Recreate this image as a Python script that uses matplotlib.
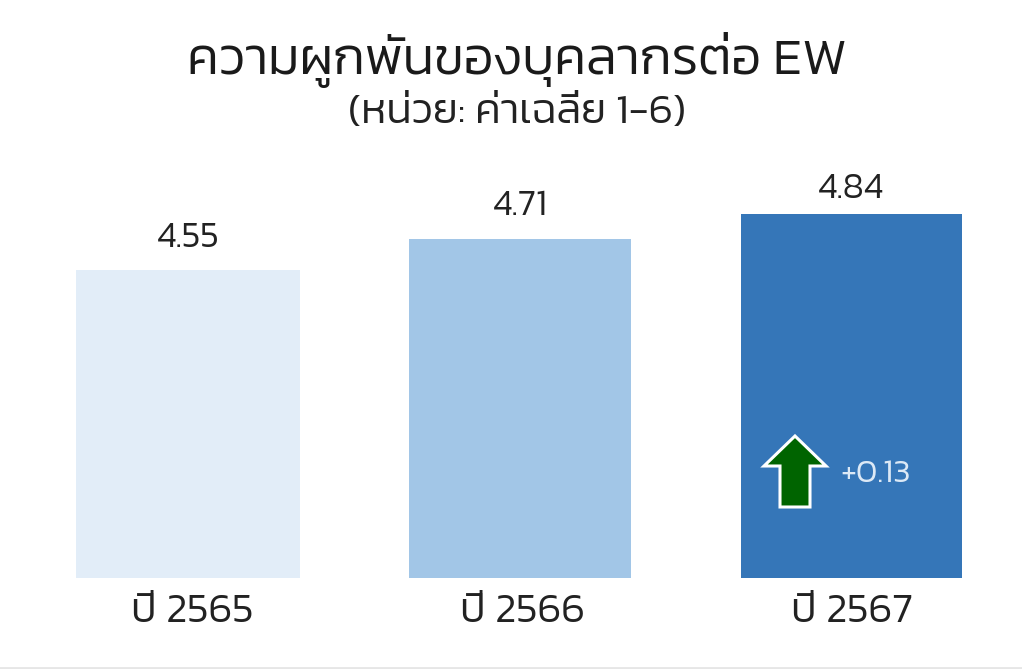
import matplotlib
matplotlib.use('Agg')
import matplotlib.pyplot as plt
from matplotlib.patches import FancyArrow
from matplotlib.lines import Line2D

years = ['ปี 2565', 'ปี 2566', 'ปี 2567']
values = [4.55, 4.71, 4.84]
colors = ['#e2edf8', '#a2c6e7', '#3576b8']
change_label = '+0.13'
title = 'ความผูกพันของบุคลากรต่อ EW'
subtitle = '(หน่วย: ค่าเฉลี่ย 1-6)'

plt.rcParams['font.family'] = ['Kanit', 'DejaVu Sans']
plt.rcParams['font.weight'] = 300

fig = plt.figure(figsize=(10.22, 6.69), dpi=100)
ax = fig.add_axes([0, 91 / 669, 1, 1 - 91 / 669])
ax.set_xlim(0, 1022)
ax.set_ylim(2.95, 2.95 + 578 / 192.5)
ax.axis('off')

# overlay in pixels for the title, labels and arrow
px = fig.add_axes([0, 0, 1, 1])
px.set_xlim(0, 1022)
px.set_ylim(669, 0)
px.axis('off')
px.patch.set_alpha(0)

centers = [188, 520, 851]
widths = [224, 222, 221]
ax.bar(centers, values, width=widths, color=colors)
for c, v, off in zip(centers, values, [32, 33, 25]):
    ax.annotate(f'{v:.2f}', (c, v), xytext=(0, off), textcoords='offset pixels',
                ha='center', va='center', fontsize=26, color='#222222')
for x, y in zip([192, 522, 852], years):
    px.text(x, 613, y, ha='center', va='center', fontsize=30, color='#222222')

px.text(517, 60, title, ha='center', va='center', fontsize=37.7, color='#1a1a1a')
px.text(517, 114, subtitle, ha='center', va='center', fontsize=30.4, color='#222222')

px.add_patch(FancyArrow(795, 507, 0, -71, width=30, head_width=62, head_length=30,
                        length_includes_head=True, facecolor='#006400',
                        edgecolor='white', linewidth=2.2))
px.text(876, 474, change_label, ha='center', va='center', fontsize=24, color='#dce9f6')

px.add_line(Line2D([0, 1022], [667.5, 667.5], color='#e6e6e6', linewidth=2))

fig.savefig('out.png', dpi=100)
